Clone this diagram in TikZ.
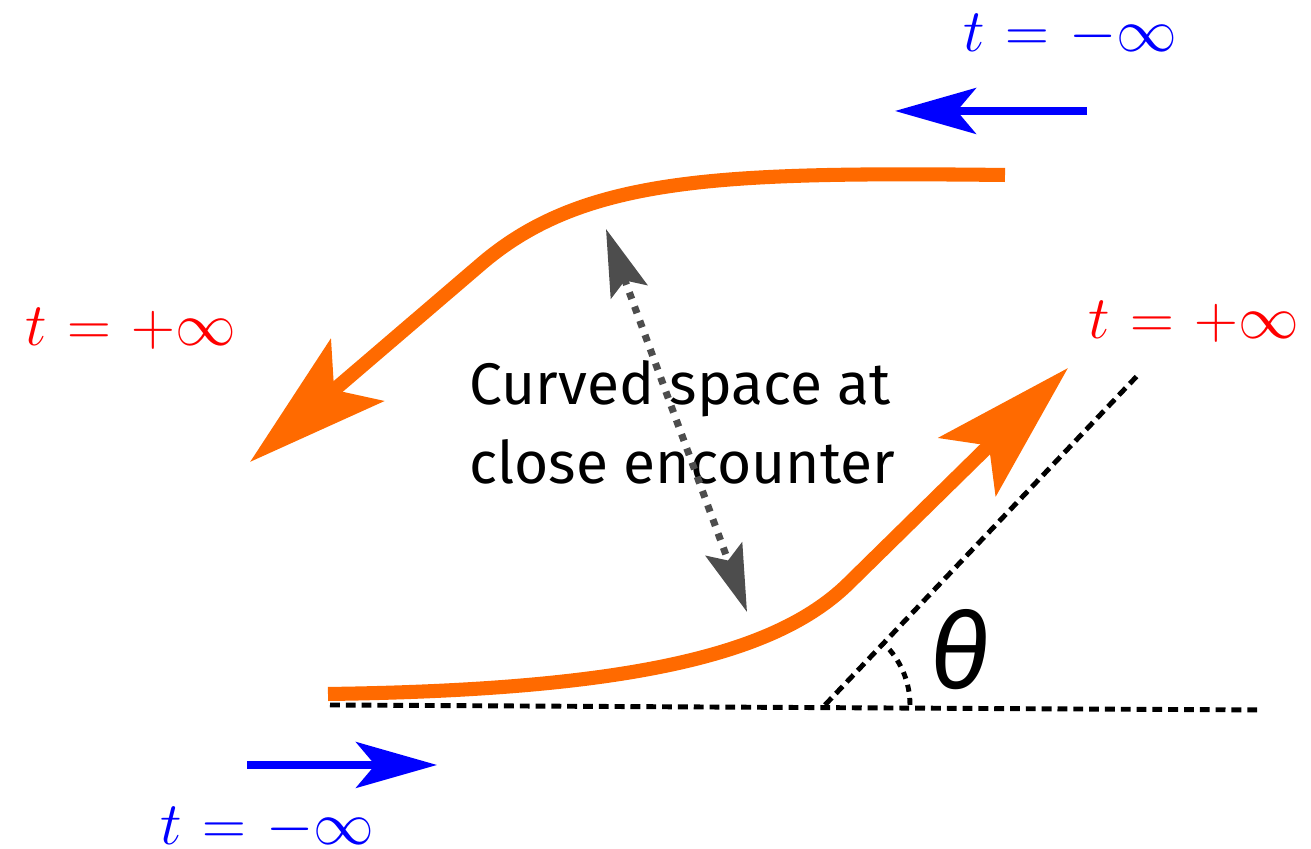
\documentclass[tikz,border=0pt]{standalone}
\usepackage{fontspec}
\setmainfont{Fira Sans}
\usetikzlibrary{arrows.meta,positioning}
\definecolor{flame}{RGB}{255,106,0}
\definecolor{slate}{RGB}{77,77,77}
\newcommand\tval[1]{$\thickmuskip=6mu\relax #1$}
\tikzset{
  orbit/.style={draw=flame,line width=4pt,
    -{Stealth[length=40pt,width=23pt,inset=8.5pt,fill=flame]}},
  drift/.style={draw=blue,line width=2.3pt,
    -{Stealth[length=23pt,width=13pt,inset=5.4pt,fill=blue]}},
  gap/.style={draw=slate,line width=2pt,dash pattern=on 2pt off 2.3pt,
    {Stealth[length=19pt,width=11pt,inset=3.4pt,fill=slate]}-{Stealth[length=19pt,width=11pt,inset=3.4pt,fill=slate]}},
  axis/.style={draw=black,line width=1.4pt,dash pattern=on 2.8pt off 1.7pt},
  tlabel/.style={text=#1,font=\fontsize{18.8}{20}\selectfont,inner sep=0pt,anchor=base west},
  tlabel/.default=red,
}
\begin{document}
\begin{tikzpicture}[x=0.1mm,y=0.1mm]
  \useasboundingbox (0,0) rectangle (1311,849);
  % end points of the two branches
  \coordinate (inS) at (328,155);
  \coordinate (inK) at (850,267);
  \coordinate (inE) at (1068,481);
  \coordinate (upS) at (1005,674);
  \coordinate (upK) at (480,584);
  \coordinate (upE) at (250,387);
  \coordinate (near) at (606,620);
  \coordinate (far) at (747,237);
  \coordinate (hzL) at (330,144);
  \coordinate (hzR) at (1262,139);
  \coordinate (vx) at (825,144);
  \coordinate (dgE) at (1138,474);
  \coordinate (blA) at (1087,738);
  \coordinate (blB) at (895,738);
  \coordinate (brA) at (247,84);
  \coordinate (brB) at (437,84);
  % labels
  \node[tlabel=blue] (tTop) at (963,797) {\tval{t=-\infty}};
  \node[tlabel] (tLeft) at (25,503) {\tval{t=+\infty}};
  \node[tlabel] (tRight) at (1088,510) {\tval{t=+\infty}};
  \node[tlabel=blue] (tBot) at (160,4) {\tval{t=-\infty}};
  \node[anchor=north west,align=left,inner sep=0pt,
    font=\fontsize{16.7}{22.4}\selectfont] (note) at (469,489) {Curved space at\\close encounter};
  \node[font=\fontsize{30}{30}\selectfont\itshape] (ang) at (960,199) {θ};
  % asymptotes and angle
  \draw[axis] (hzL) -- (hzR);
  \draw[axis] (vx) -- (dgE);
  \draw[draw=black,line width=1.4pt,dash pattern=on 2pt off 1.8pt]
    ([xshift=8.5mm]vx) arc[start angle=0,end angle=46.5,radius=8.5mm];
  % trajectory
  \draw[orbit] (inS) .. controls (640,159) and (780,197) .. (inK) -- (inE);
  \draw[orbit] (upS) .. controls (720,677) and (583,673) .. (upK) -- (upE);
  \draw[gap] (near) -- (far);
  \draw[drift] (blA) -- (blB);
  \draw[drift] (brA) -- (brB);
\end{tikzpicture}
\end{document}
